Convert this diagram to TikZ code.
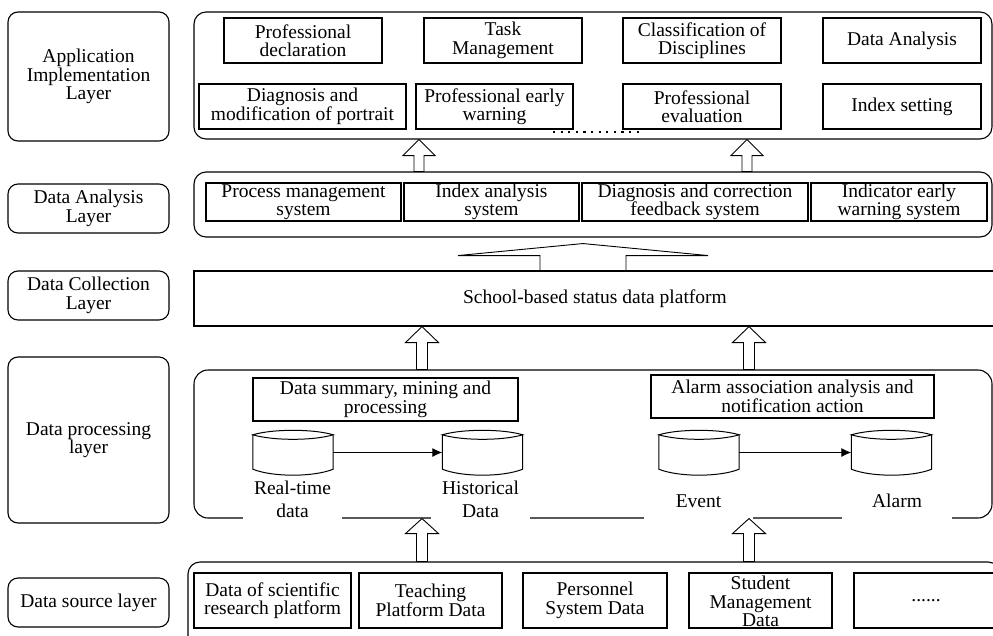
\documentclass[tikz,border=0pt]{standalone}
\usepackage{fontspec}
\setmainfont{Liberation Serif}
\usetikzlibrary{calc,arrows.meta}
\newcommand\hollowarrow[5]{%
  \draw[hol] let \p1=#1, \p2=#2 in
    (\x1,\y1) -- (\x1+#3pt,\y1-#4pt) -- (\x1+#5pt,\y1-#4pt) -- (\x1+#5pt,\y2)
    -- (\x1-#5pt,\y2) -- (\x1-#5pt,\y1-#4pt) -- (\x1-#3pt,\y1-#4pt) -- cycle;}
\newcommand\cylsketch[1]{%
  \draw[cyl] ($(#1.north west)+(0,5)$) .. controls ($(#1.north west)+(20,-1)$) and ($(#1.north east)+(-20,-1)$) .. ($(#1.north east)+(0,5)$)
     .. controls ($(#1.north east)+(-20,11)$) and ($(#1.north west)+(20,11)$) .. cycle;
  \draw[cyl] ($(#1.north west)+(0,5)$) -- ($(#1.south west)+(0,-6)$)
     .. controls ($(#1.south west)+(20,2)$) and ($(#1.south east)+(-20,2)$) .. ($(#1.south east)+(0,-6)$)
     -- ($(#1.north east)+(0,5)$);}
\begin{document}
\begin{tikzpicture}[x=1pt,y=-1pt,
  every node/.style={font=\fontsize{19.5}{18.5}\selectfont, inner sep=0pt, align=center},
  lay/.style={draw, line width=1.1pt, rounded corners=10pt, minimum width=161pt},
  box/.style={draw, line width=1.1pt},
  panel/.style={draw, line width=1.1pt, rounded corners=12pt},
  hol/.style={draw, line width=0.9pt, fill=white, line join=miter},
  lbl/.style={fill=white, minimum height=44pt, font=\fontsize{19.5}{23}\selectfont},
  cyl/.style={line width=1pt},
  cylnode/.style={minimum width=80pt, minimum height=45pt},
  flow/.style={line width=1pt, -{Latex[length=10pt,width=9pt]}}
]
\useasboundingbox (0,0) rectangle (993,635);
\fill[white] (0,0) rectangle (993,635);
\clip (0,0) rectangle (993,635);

% layer labels
\node[lay, minimum height=129pt] (L1) at (88.5,76.5) {Application\\Implementation\\Layer};
\node[lay, minimum height=49pt] (L2) at (88.5,208.5) {Data Analysis\\Layer};
\node[lay, minimum height=49pt] (L3) at (88.5,295.5) {Data Collection\\Layer};
\node[lay, minimum height=166pt] (L4) at (88.5,440) {Data processing\\layer};
\node[lay, minimum height=49pt] (L5) at (88.5,602.5) {Data source layer};

% application layer
\node[panel, minimum width=798pt, minimum height=127pt] (P1) at (593,75.5) {};
\node[box, minimum width=158pt, minimum height=45pt] (A1) at (303,40.5) {Professional\\declaration};
\node[box, minimum width=158pt, minimum height=45pt] (A2) at (503,40.5) {Task\\Management};
\node[box, minimum width=158pt, minimum height=45pt] (A3) at (702,40.5) {Classification of\\Disciplines};
\node[box, minimum width=158pt, minimum height=45pt] (A4) at (902,40.5) {Data Analysis};
\node[box, minimum width=207pt, minimum height=45pt] (B1) at (302.5,106.5) {Diagnosis and\\modification of portrait};
\node[box, minimum width=157pt, minimum height=45pt] (B2) at (494.5,106.5) {Professional early\\warning};
\node[box, minimum width=158pt, minimum height=45pt] (B3) at (702,106.5) {Professional\\evaluation};
\node[box, minimum width=158pt, minimum height=45pt] (B4) at (902,106.5) {Index setting};
\draw[line width=2.2pt, dash pattern=on 2.2pt off 5.4pt] (553,132) -- (641,132);

% data analysis layer
\node[panel, minimum width=798pt, minimum height=65pt] (P2) at (593,204.5) {};
\node[box, minimum width=195pt, minimum height=38pt] (C1) at (303.5,202) {Process management\\system};
\node[box, minimum width=175pt, minimum height=38pt] (C2) at (491.5,202) {Index analysis\\system};
\node[box, minimum width=226pt, minimum height=38pt] (C3) at (695,202) {Diagnosis and correction\\feedback system};
\node[box, minimum width=176pt, minimum height=38pt] (C4) at (899,202) {Indicator early\\warning system};

% data collection layer
\node[box, minimum width=802pt, minimum height=55pt] (P3) at (595,298.5) {School-based status data platform};

% data processing layer
\node[panel, rounded corners=14pt, minimum width=798pt, minimum height=148pt] (P4) at (593,444) {};
\node[box, minimum width=265pt, minimum height=43pt] (D1) at (385.5,399.5) {Data summary, mining and\\processing};
\node[box, minimum width=283pt, minimum height=43pt] (D2) at (792.5,396.5) {Alarm association analysis and\\notification action};
\node[cylnode] (Y1) at (293,452.5) {};
\node[cylnode] (Y2) at (482.5,452.5) {};
\node[cylnode] (Y3) at (699,452.5) {};
\node[cylnode] (Y4) at (891.5,452.5) {};
\cylsketch{Y1}
\cylsketch{Y2}
\cylsketch{Y3}
\cylsketch{Y4}
\draw[flow] (Y1.east) -- (Y2.west);
\draw[flow] (Y3.east) -- (Y4.west);
\node[lbl, minimum width=99pt] (R1) at (292.5,499) {Real-time\\data};
\node[lbl, minimum width=99pt] (R2) at (480.5,499) {Historical\\Data};
\node[lbl, minimum width=109pt] (R3) at (698.5,501) {Event};
\node[lbl, minimum width=110pt] (R4) at (897,501) {Alarm};

% data source layer
\node[panel, minimum width=812pt, minimum height=88pt] (P5) at (594,606) {};
\node[box, minimum width=157pt, minimum height=55pt] (E1) at (272.5,600.5) {Data of scientific\\research platform};
\node[box, minimum width=143pt, minimum height=55pt] (E2) at (430.5,600.5) {Teaching\\Platform Data};
\node[box, minimum width=144pt, minimum height=55pt] (E3) at (595,600.5) {Personnel\\System Data};
\node[box, minimum width=143pt, minimum height=55pt] (E4) at (760.5,600.5) {};
\node (E4t) at ($(E4.center)+(0,1)$) {Student\\Management\\Data};
\node[box, minimum width=144pt, minimum height=55pt] (E5) at (926,600.5) {......};

% hollow arrows
\hollowarrow{(419,0 |- P1.south)}{(419,0 |- P2.north)}{16}{16}{5}
\hollowarrow{(747,0 |- P1.south)}{(747,0 |- P2.north)}{16}{16}{5}
\hollowarrow{($(583,0 |- P2.south)+(0,6)$)}{(583,0 |- P3.north)}{125}{12}{43}
\hollowarrow{(422,0 |- P3.south)}{(422,0 |- P4.north)}{16.5}{16}{5.5}
\hollowarrow{(749,0 |- P3.south)}{(749,0 |- P4.north)}{16.5}{16}{5.5}
\hollowarrow{(422,0 |- P4.south)}{(422,0 |- P5.north)}{16.5}{15}{5.5}
\hollowarrow{(749,0 |- P4.south)}{(749,0 |- P5.north)}{16.5}{15}{5.5}
\end{tikzpicture}
\end{document}
